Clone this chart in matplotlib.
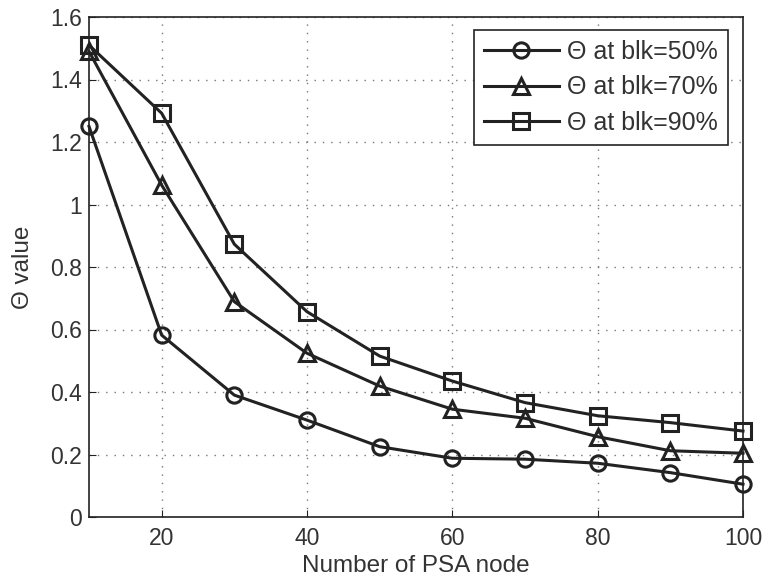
import matplotlib
matplotlib.use("Agg")
import matplotlib.pyplot as plt

x_nodes = [10, 20, 30, 40, 50, 60, 70, 80, 90, 100]
theta_50 = [1.25, 0.582, 0.39, 0.31, 0.225, 0.188, 0.185, 0.172, 0.142, 0.105]
theta_70 = [1.49, 1.062, 0.689, 0.524, 0.419, 0.345, 0.316, 0.257, 0.212, 0.204]
theta_90 = [1.51, 1.292, 0.873, 0.657, 0.515, 0.435, 0.366, 0.324, 0.302, 0.275]
labels = ["\u0398 at blk=50%", "\u0398 at blk=70%", "\u0398 at blk=90%"]
x_ticks = [20, 40, 60, 80, 100]
y_ticks = [0, 0.2, 0.4, 0.6, 0.8, 1, 1.2, 1.4, 1.6]
y_tick_labels = ["0", "0.2", "0.4", "0.6", "0.8", "1", "1.2", "1.4", "1.6"]

plt.rcParams['font.family'] = ['Liberation Sans', 'DejaVu Sans']
fs_tick = 16.5
fs_lab = 17.5
fs_leg = 18

fig = plt.figure(figsize=(7.64, 5.85), dpi=100)
# axes: left 89px, right 743px, top 17px, bottom 517px
ax = fig.add_axes([89 / 764, 1 - 517 / 585, (743 - 89) / 764, 500 / 585])

col = "#222222"
for ys, m, lab in zip([theta_50, theta_70, theta_90], ["o", "^", "s"], labels):
    ax.plot(x_nodes, ys, marker=m, color=col, lw=2.2, markersize=11,
            markerfacecolor="none", markeredgewidth=2.2, label=lab, clip_on=False)

ax.set_xlim(10, 100)
ax.set_ylim(0, 1.6)
ax.set_xticks(x_ticks)
ax.set_yticks(y_ticks)
ax.set_yticklabels(y_tick_labels)
ax.tick_params(direction="in", labelsize=fs_tick, length=5, color=col, labelcolor="#333333")
ax.tick_params(axis="x", pad=7)
ax.tick_params(axis="y", pad=5)
ax.grid(True, linestyle=(0, (1, 5)), color="#777777", linewidth=1)
for s in ax.spines.values():
    s.set_color(col)
    s.set_linewidth(1.2)
ax.set_xlabel("Number of PSA node", fontsize=fs_lab, color="#333333", labelpad=4)
ax.set_ylabel("\u0398 value", fontsize=fs_lab, color="#333333", labelpad=12)

leg = ax.legend(loc="upper right", fontsize=fs_leg, handlelength=3.0, handletextpad=0.35,
                borderpad=0.4, labelspacing=0.45, fancybox=False, framealpha=1,
                edgecolor=col, bbox_to_anchor=((728 - 89) / 654, (517 - 30) / 500),
                borderaxespad=0)
leg.get_frame().set_linewidth(1.2)
for t in leg.get_texts():
    t.set_color("#333333")

fig.savefig("out.png", dpi=100)
